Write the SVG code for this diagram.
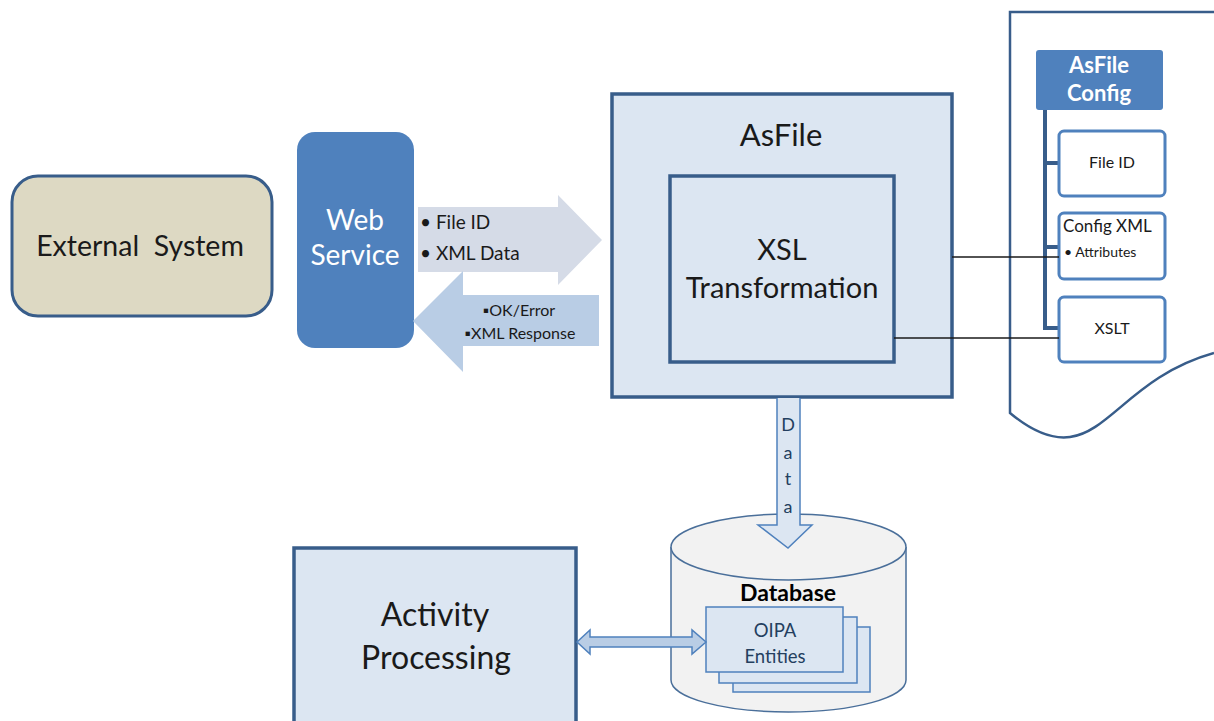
<svg xmlns="http://www.w3.org/2000/svg" width="1214" height="721" viewBox="0 0 1214 721">
<style>
text{font-family:Lato,"Open Sans","Liberation Sans",sans-serif;fill:#1a1a1a}
.c{text-anchor:middle}
.w{fill:#ffffff}
.box{fill:#dce6f2;stroke:#385d8a;stroke-width:3.5}
.cfg{fill:#ffffff;stroke:#4f81bd;stroke-width:3}
.ln{stroke:#1a1a1a;stroke-width:1.5;fill:none}
</style>
<rect width="1214" height="721" fill="#ffffff"/>

<g id="config-doc">
<path d="M1214,12 H1010 V413 C1028,428 1048,440 1070,437 C1110,432 1135,375 1214,353" fill="#ffffff" stroke="#385d8a" stroke-width="2.5"/>
</g>

<g id="asfile-config">
<rect x="1036" y="50" width="127" height="60" rx="3" fill="#4f81bd"/>
<text class="c w" x="1099" y="73" font-size="22" font-weight="bold">AsFile</text>
<text class="c w" x="1099" y="101" font-size="22" font-weight="bold">Config</text>
</g>
<g id="config-tree" fill="none" stroke="#385d8a" stroke-width="4">
<path d="M1045,110 V328 H1060 M1045,163 H1060 M1045,247 H1060"/>
</g>
<g id="cfg-fileid">
<rect class="cfg" x="1059" y="131" width="106" height="65" rx="5"/>
<text class="c" x="1112" y="168" font-size="16">File ID</text>
</g>
<g id="cfg-configxml">
<rect class="cfg" x="1059" y="213" width="106" height="66" rx="5"/>
<text x="1063" y="232" font-size="17">Config XML</text>
<text x="1064" y="257" font-size="14">• Attributes</text>
</g>
<g id="cfg-xslt">
<rect class="cfg" x="1059" y="297" width="106" height="65" rx="5"/>
<text class="c" x="1112" y="334" font-size="16">XSLT</text>
</g>

<g id="external-system">
<rect x="12" y="176" width="260" height="140" rx="26" fill="#ddd9c3" stroke="#385d8a" stroke-width="3"/>
<text class="c" x="140" y="256" font-size="28.5" xml:space="preserve">External  System</text>
</g>

<g id="web-service">
<rect x="297" y="132" width="117" height="216" rx="18" fill="#4f81bd"/>
<text class="c w" x="355" y="230" font-size="28">Web</text>
<text class="c w" x="355" y="265" font-size="28">Service</text>
</g>

<g id="asfile">
<rect class="box" x="612" y="94" width="340" height="303"/>
<text class="c" x="781" y="146" font-size="31">AsFile</text>
</g>
<g id="xsl-transformation">
<rect class="box" x="670" y="176" width="224" height="186"/>
<text class="c" x="782" y="260" font-size="29">XSL</text>
<text class="c" x="782" y="298" font-size="29">Transformation</text>
</g>

<g id="database">
<path d="M671,547 V680 A117.5,32 0 0 0 906,680 V547" fill="#f2f2f2" stroke="#4a6f9a" stroke-width="1.5"/>
<ellipse cx="788.5" cy="547" rx="117.5" ry="33" fill="#f2f2f2" stroke="#4a6f9a" stroke-width="1.5"/>
<text class="c" x="788" y="601" font-size="23" font-weight="bold" style="fill:#000">Database</text>
</g>
<g id="oipa-entities">
<rect x="733" y="627" width="137" height="65" fill="#dce6f2" stroke="#4f81bd" stroke-width="1.5"/>
<rect x="719" y="617" width="138" height="66" fill="#dce6f2" stroke="#4f81bd" stroke-width="1.5"/>
<rect x="706" y="607" width="137" height="65" fill="#dce6f2" stroke="#4f81bd" stroke-width="1.5"/>
<text class="c" x="775" y="637" font-size="18.5" style="fill:#243f60">OIPA</text>
<text class="c" x="775" y="663" font-size="18.5" style="fill:#243f60">Entities</text>
</g>

<g id="activity-processing">
<rect class="box" x="294" y="548" width="282" height="180"/>
<text class="c" x="435" y="626" font-size="32">Activity</text>
<text class="c" x="436" y="669" font-size="32">Processing</text>
</g>

<g id="connectors">
<path d="M418,207 H558 V195 L602,240 L558,285 V272 H418 Z" fill="#d5dbe7"/>
<text x="420" y="229" font-size="19">• File ID</text>
<text x="420" y="260" font-size="19">• XML Data</text>

<path d="M599,295 H463 V271 L413,321 L463,372 V346 H599 Z" fill="#b9cde5"/>
<text class="c" x="519" y="316" font-size="16">▪OK/Error</text>
<text class="c" x="520" y="339" font-size="16">▪XML Response</text>

<path d="M777,398 V525 H758 L788,548 L812,525 H800 V398" fill="#dce6f2" stroke="#4f81bd" stroke-width="1.5"/>
<text class="c" x="788" y="431" font-size="18" style="fill:#243f60">D</text>
<text class="c" x="788" y="459" font-size="18" style="fill:#243f60">a</text>
<text class="c" x="788" y="485" font-size="18" style="fill:#243f60">t</text>
<text class="c" x="788" y="513" font-size="18" style="fill:#243f60">a</text>

<path d="M577,642 L590,630 V637 H692 V630 L706,642 L692,654 V647 H590 V654 Z" fill="#b9cde5" stroke="#4f81bd" stroke-width="1.5"/>

<line class="ln" x1="952" y1="257" x2="1059" y2="257"/>
<line class="ln" x1="894" y1="338" x2="1059" y2="338"/>
</g>
</svg>
